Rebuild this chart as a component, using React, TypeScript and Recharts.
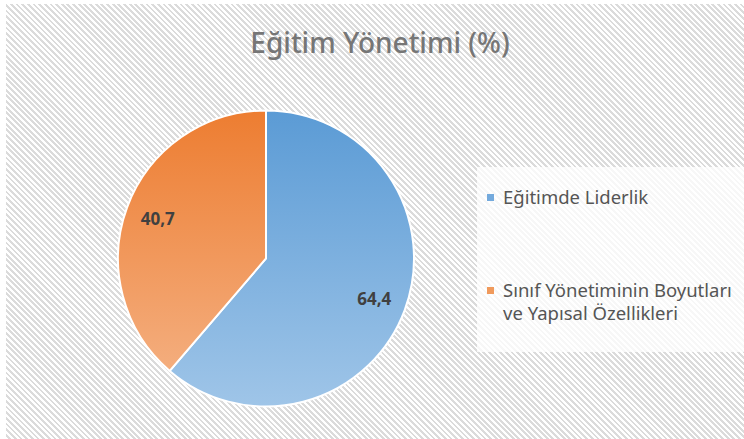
import React from 'react';
import { PieChart, Pie, Cell, Legend } from 'recharts';

const title = 'Eğitim Yönetimi (%)';
const categories = ['Eğitimde Liderlik', 'Sınıf Yönetiminin Boyutları ve Yapısal Özellikleri'];
const values = [64.4, 40.7];
const legendLines = [['Eğitimde Liderlik'], ['Sınıf Yönetiminin Boyutları', 've Yapısal Özellikleri']];
const colorsTop = ['#5b9bd5', '#ed7d31'];
const colorsBottom = ['#9fc5e8', '#f5b488'];
const markerColors = ['#74aadd', '#f09a5c'];

const data = categories.map((name, i) => ({ name, value: values[i] }));

const W = 738;
const H = 435;
const CX = 260;
const CY = 254.5;
const R = 148;
const FONT = '"Noto Sans", "Open Sans", sans-serif';

const fmt = (v: number) => v.toFixed(1).replace('.', ',');

const renderLabel = (props: any) => {
  const { cx, cy, midAngle, outerRadius, value } = props;
  const RAD = Math.PI / 180;
  const r = outerRadius * 0.78;
  const x = cx + r * Math.cos(-midAngle * RAD);
  const y = cy + r * Math.sin(-midAngle * RAD);
  return (
    <text
      x={x}
      y={y}
      textAnchor="middle"
      dominantBaseline="central"
      fill="#404040"
      fontFamily={FONT}
      fontWeight={700}
      fontSize={17}
    >
      {fmt(value)}
    </text>
  );
};

const itemCenters = [30, 123];

const renderLegend = (props: any) => {
  const payload = props.payload || [];
  return (
    <div
      style={{
        position: 'relative',
        width: 267,
        height: 185,
        background: 'rgba(255,255,255,0.78)',
        fontFamily: FONT,
        color: '#555555',
        fontSize: 18.5,
      }}
    >
      {payload.map((entry: any, i: number) => (
        <div key={i}>
          <div
            style={{
              position: 'absolute',
              left: 10,
              top: itemCenters[i] - 3.5,
              width: 7,
              height: 7,
              background: markerColors[i],
            }}
          />
          {legendLines[i].map((ln, j) => (
            <div
              key={j}
              style={{
                position: 'absolute',
                left: 26,
                top: itemCenters[i] - 10 + j * 22.5,
                lineHeight: '20px',
                height: 20,
                whiteSpace: 'nowrap',
              }}
            >
              {ln}
            </div>
          ))}
        </div>
      ))}
    </div>
  );
};

export default function App() {
  return (
    <div>
      <svg width={0} height={0} style={{ position: 'absolute' }}>
        <defs>
          {colorsTop.map((c, i) => (
            <linearGradient
              key={i}
              id={`grad${i}`}
              gradientUnits="userSpaceOnUse"
              x1={0}
              y1={CY - R}
              x2={0}
              y2={CY + R}
            >
              <stop offset="0%" stopColor={c} />
              <stop offset="100%" stopColor={colorsBottom[i]} />
            </linearGradient>
          ))}
        </defs>
      </svg>
      <div
        style={{
          position: 'absolute',
          left: 6,
          top: 4,
          width: W,
          height: H,
          background:
            'repeating-linear-gradient(45deg, #ffffff 0px, #ffffff 2px, #dbdbdb 2px, #dbdbdb 4px)',
        }}
      >
        <div
          style={{
            position: 'absolute',
            left: 0,
            top: 20,
            width: 748,
            textAlign: 'center',
            fontFamily: FONT,
            fontSize: 28,
            fontWeight: 500,
            color: '#767676',
            lineHeight: '36px',
          }}
        >
          {title}
        </div>
        <PieChart width={W} height={H} margin={{ top: 0, right: 0, bottom: 0, left: 0 }}>
          <Pie
            data={data}
            dataKey="value"
            nameKey="name"
            cx={CX}
            cy={CY}
            outerRadius={R}
            startAngle={90}
            endAngle={-270}
            stroke="#ffffff"
            strokeWidth={2}
            label={renderLabel}
            labelLine={false}
            isAnimationActive={false}
          >
            {data.map((d, i) => (
              <Cell key={i} fill={`url(#grad${i})`} />
            ))}
          </Pie>
          <Legend
            layout="vertical"
            align="right"
            verticalAlign="middle"
            content={renderLegend}
            wrapperStyle={{ position: 'absolute', left: 471, top: 163, width: 267, height: 185 }}
          />
        </PieChart>
      </div>
    </div>
  );
}
